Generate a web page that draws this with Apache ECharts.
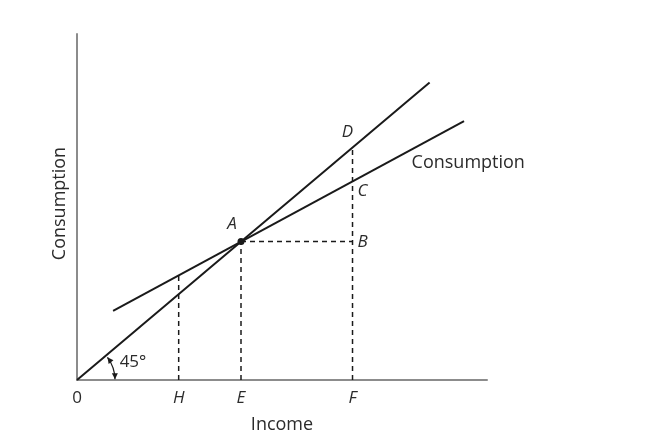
<!DOCTYPE html>
<html>
<head>
<meta charset="utf-8">
<style>
  html, body { margin: 0; padding: 0; background: #fff; }
  #chart { width: 653px; height: 439px; }
</style>
<script src="https://cdn.jsdelivr.net/npm/echarts@6/dist/echarts.min.js"></script>
</head>
<body>
<div id="chart"></div>
<script>
// income ticks on the x axis
const incomeTicks = [0, 62, 100, 168];
const incomeTickNames = ['0', 'H', 'E', 'F'];

// 45 degree line and consumption function
const line45 = [[0, 0], [215, 215]];
const consumptionLine = [[22, 50], [236, 187]];

// labelled points
const pointNames = ['A', 'B', 'C', 'D'];
const pointX = [100, 168, 168, 168];
const pointY = [100, 100, 143.5, 168];

// dashed guide lines
const guideH = [[62, 0], [62, 76]];
const guideE = [[100, 0], [100, 100]];
const guideF = [[168, 0], [168, 168]];
const guideAB = [[100, 100], [168, 100]];

const FONT = "'Open Sans', 'DejaVu Sans', sans-serif";
const INK = '#1a1a1a';
const TXT = '#2b2b2b';

var chart = echarts.init(document.getElementById('chart'));

function dashed(data) {
    return {
        type: 'line',
        data: data,
        symbol: 'none',
        silent: true,
        lineStyle: { color: INK, width: 1.5, type: [5, 4] }
    };
}

var labelOpts = {
    A: { position: 'top', offset: [-9, 0] },
    B: { position: 'right', distance: 5, offset: [0, 1] },
    C: { position: 'right', distance: 5, offset: [0, 10] },
    D: { position: 'top', offset: [-5, -2] }
};

var pointData = pointNames.map(function (n, i) {
    var o = labelOpts[n];
    return {
        value: [pointX[i], pointY[i]],
        symbolSize: n === 'A' ? 7 : 0,
        label: {
            show: true,
            formatter: n,
            position: o.position,
            distance: o.distance || 5,
            offset: o.offset,
            fontStyle: 'italic',
            fontSize: 17,
            fontFamily: FONT,
            color: TXT
        }
    };
});

var option = {
    animation: false,
    grid: { left: 77, top: 34, width: 410, height: 347 },
    xAxis: {
        type: 'value',
        min: 0,
        max: 250,
        name: 'Income',
        nameLocation: 'middle',
        nameGap: 36,
        nameTextStyle: { fontSize: 18, fontFamily: FONT, color: TXT },
        axisLine: { lineStyle: { color: '#8c8c8c', width: 2 } },
        axisTick: { show: false },
        splitLine: { show: false },
        axisLabel: {
            customValues: incomeTicks,
            margin: 10,
            formatter: function (v) {
                var i = incomeTicks.indexOf(v);
                if (i < 0) return '';
                return i === 0 ? '{n|' + incomeTickNames[i] + '}' : '{i|' + incomeTickNames[i] + '}';
            },
            rich: {
                n: { fontSize: 17, fontFamily: FONT, color: TXT },
                i: { fontSize: 17, fontFamily: FONT, color: TXT, fontStyle: 'italic' }
            }
        }
    },
    yAxis: {
        type: 'value',
        min: 0,
        max: 250,
        name: 'Consumption',
        nameLocation: 'middle',
        nameRotate: 90,
        nameGap: 8,
        nameTextStyle: { fontSize: 18, fontFamily: FONT, color: TXT, padding: [0, 0, 0, 7] },
        axisLine: { show: true, lineStyle: { color: '#8c8c8c', width: 2 } },
        axisTick: { show: false },
        axisLabel: { show: false },
        splitLine: { show: false }
    },
    series: [
        dashed(guideH),
        dashed(guideE),
        dashed(guideF),
        dashed(guideAB),
        {
            type: 'line',
            data: line45,
            symbol: 'none',
            lineStyle: { color: INK, width: 2 }
        },
        {
            type: 'line',
            data: consumptionLine,
            symbol: 'none',
            lineStyle: { color: INK, width: 2 }
        },
        {
            type: 'scatter',
            data: pointData,
            itemStyle: { color: INK, opacity: 1 },
            z: 5
        },
        {
            // free text labels: "Consumption" next to the line and the 45° angle
            type: 'scatter',
            symbolSize: 0,
            itemStyle: { opacity: 1 },
            data: [
                { value: [204, 157], label: { show: true, formatter: 'Consumption', position: 'right', distance: 0, fontSize: 18 } },
                { value: [26, 13], label: { show: true, formatter: '45°', position: 'right', distance: 0, fontSize: 17 } }
            ],
            label: { fontFamily: FONT, color: TXT }
        },
        {
            // angle arc with arrows between x axis and 45 degree line
            type: 'custom',
            data: [[0, 0]],
            renderItem: function (params, api) {
                var o = api.coord([api.value(0), api.value(1)]);
                var far = api.coord(line45[1]);
                var lineAng = Math.atan2(far[1] - o[1], far[0] - o[0]);
                var r = 38;
                var a0 = lineAng + 0.06, a1 = -0.02;
                function arrow(ang, dir) {
                    var tx = o[0] + r * Math.cos(ang), ty = o[1] + r * Math.sin(ang);
                    var dx = -Math.sin(ang) * dir, dy = Math.cos(ang) * dir;
                    var nx = Math.cos(ang), ny = Math.sin(ang);
                    var L = 6, W = 3;
                    return {
                        type: 'polygon',
                        shape: { points: [
                            [tx, ty],
                            [tx - dx * L + nx * W, ty - dy * L + ny * W],
                            [tx - dx * L - nx * W, ty - dy * L - ny * W]
                        ] },
                        style: { fill: INK }
                    };
                }
                return {
                    type: 'group',
                    children: [
                        {
                            type: 'arc',
                            shape: { cx: o[0], cy: o[1], r: r, startAngle: a0, endAngle: a1, clockwise: true },
                            style: { stroke: INK, lineWidth: 1.2, fill: null }
                        },
                        arrow(a1, 1),
                        arrow(a0, -1)
                    ]
                };
            },
            z: 4
        }
    ]
};

chart.setOption(option);
</script>
</body>
</html>
